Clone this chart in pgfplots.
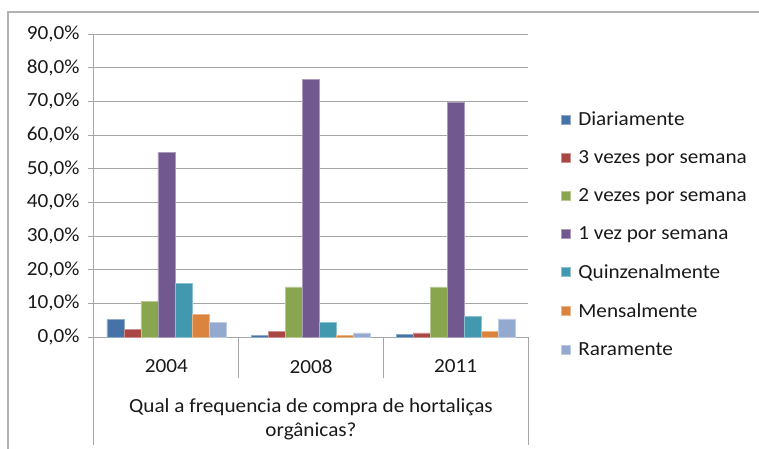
\documentclass[border=0pt]{standalone}
\usepackage{fontspec}
\setmainfont{Carlito}[FakeStretch=1.06]
\usepackage{pgfplots}
\pgfplotsset{compat=1.18}

\definecolor{cDia}{HTML}{4572A7}
\definecolor{cTres}{HTML}{AA4643}
\definecolor{cDois}{HTML}{89A54E}
\definecolor{cUma}{HTML}{71588F}
\definecolor{cQui}{HTML}{4198AF}
\definecolor{cMen}{HTML}{DB843D}
\definecolor{cRar}{HTML}{93A9CF}
\definecolor{gridc}{HTML}{A6A6A6}

\begin{document}
\begin{tikzpicture}[font=\fontsize{20}{24}\selectfont, text=black!90]
\useasboundingbox (-94pt,-111pt) rectangle (665pt,337pt);
\draw[black!30, line width=1.5pt] (-86pt,-120pt) -- (-86pt,325pt) -- (700pt,325pt);
\begin{axis}[
    at={(0pt,0pt)}, anchor=south west,
    scale only axis,
    width=434pt, height=303pt,
    ybar=0pt, bar width=17pt,
    xmin=-0.5, xmax=2.5,
    ymin=0, ymax=90,
    ytick={0,10,...,90},
    xtick={0,1,2},
    xticklabels={2004,2008,2011},
    x tick style={draw=none},
    xticklabel style={yshift=-13pt},
    /pgf/number format/assume math mode=true,
    yticklabel={\pgfmathprintnumber[fixed,fixed zerofill,precision=1,use comma]{\tick}\%},
    yticklabel style={xshift=-5pt},
    tick align=outside,
    major tick length=6pt,
    y tick style={gridc, line width=1pt},
    axis x line*=bottom,
    axis y line*=left,
    axis line style={gridc, line width=1pt, -},
    ymajorgrids,
    grid style={gridc, line width=1pt},
    clip=false,
    xlabel={Qual a frequencia de compra de hortaliças\\orgânicas?},
    xlabel style={align=center, at={(axis description cs:0.5,0)}, anchor=north, yshift=-58pt},
    legend style={at={(1.075,0.75)}, anchor=north west, draw=none, fill=none,
        row sep=19.5pt, cells={anchor=west}, inner sep=0pt,
        /tikz/every odd column/.append style={column sep=6pt}},
    legend image code/.code={\fill[#1] (0pt,-4.5pt) rectangle (9pt,4.5pt);},
    every axis plot/.append style={line width=0.6pt},
]
\addplot[fill=cDia, draw=cDia!60!white] coordinates {(0,5.2) (1,0.5) (2,0.7)};
\addplot[fill=cTres, draw=cTres!60!white] coordinates {(0,2.2) (1,1.7) (2,1.2)};
\addplot[fill=cDois, draw=cDois!60!white] coordinates {(0,10.6) (1,14.9) (2,14.9)};
\addplot[fill=cUma, draw=cUma!60!white] coordinates {(0,54.8) (1,76.6) (2,69.6)};
\addplot[fill=cQui, draw=cQui!60!white] coordinates {(0,15.9) (1,4.4) (2,6.2)};
\addplot[fill=cMen, draw=cMen!60!white] coordinates {(0,6.8) (1,0.4) (2,1.7)};
\addplot[fill=cRar, draw=cRar!60!white] coordinates {(0,4.4) (1,1.2) (2,5.4)};
\legend{Diariamente, 3 vezes por semana, 2 vezes por semana, 1 vez por semana, Quinzenalmente, Mensalmente, Raramente}
\draw[gridc, line width=1pt] (axis cs:0.5,0) -- ++(0pt,-41pt);
\draw[gridc, line width=1pt] (axis cs:1.5,0) -- ++(0pt,-41pt);
\draw[gridc, line width=1pt] (axis cs:-0.5,0) -- ++(0pt,-108pt);
\draw[gridc, line width=1pt] (axis cs:2.5,0) -- ++(0pt,-108pt);
\end{axis}
\end{tikzpicture}
\end{document}
